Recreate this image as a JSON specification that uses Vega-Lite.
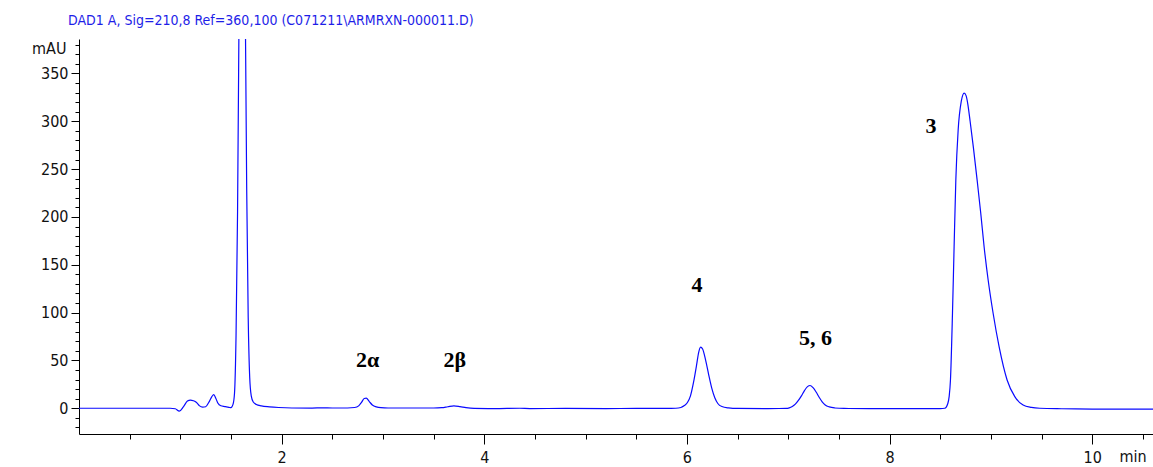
{
  "$schema": "https://vega.github.io/schema/vega-lite/v6.json",
  "width": 1074,
  "height": 395,
  "autosize": {"type": "none"},
  "padding": {"left": 79, "top": 39, "right": 0, "bottom": 33},
  "background": "white",
  "title": {
    "text": "DAD1 A, Sig=210,8 Ref=360,100 (C071211\\ARMRXN-000011.D)",
    "anchor": "start",
    "frame": "group",
    "dx": -11,
    "offset": 9,
    "baseline": "top",
    "font": "Liberation Sans Narrow, DejaVu Sans Condensed, Liberation Sans",
    "fontSize": 14,
    "fontWeight": "normal",
    "color": "#1e1ee8"
  },
  "config": {
    "view": {"stroke": null},
    "axis": {
      "labelFont": "Liberation Sans Narrow, DejaVu Sans Condensed, Liberation Sans",
      "titleFont": "Liberation Sans Narrow, DejaVu Sans Condensed, Liberation Sans",
      "labelFontSize": 16,
      "titleFontSize": 16,
      "titleFontWeight": "normal",
      "labelColor": "#111",
      "titleColor": "#111",
      "domainColor": "black",
      "tickColor": "black",
      "grid": false,
      "labelOverlap": false,
      "labelFlush": false,
      "labelBound": false
    }
  },
  "layer": [
    {
      "data": {
        "values": [
          {"t": 0.0, "v": 0}, {"t": 0.5, "v": 0}, {"t": 0.9, "v": 0}, {"t": 0.95, "v": -0.5},
          {"t": 0.99, "v": -3}, {"t": 1.03, "v": 1.5}, {"t": 1.07, "v": 7.5}, {"t": 1.10, "v": 8.6},
          {"t": 1.13, "v": 7.8}, {"t": 1.16, "v": 6}, {"t": 1.19, "v": 2.5}, {"t": 1.22, "v": 1.2},
          {"t": 1.25, "v": 1.6}, {"t": 1.28, "v": 6}, {"t": 1.31, "v": 12}, {"t": 1.33, "v": 14.3},
          {"t": 1.35, "v": 10.5}, {"t": 1.37, "v": 5.5}, {"t": 1.40, "v": 2.6}, {"t": 1.44, "v": 1.8},
          {"t": 1.48, "v": 1}, {"t": 1.50, "v": 0.6}, {"t": 1.52, "v": 4}, {"t": 1.535, "v": 16},
          {"t": 1.55, "v": 76}, {"t": 1.565, "v": 206}, {"t": 1.58, "v": 420}, {"t": 1.595, "v": 642},
          {"t": 1.61, "v": 740}, {"t": 1.625, "v": 660}, {"t": 1.64, "v": 440}, {"t": 1.655, "v": 230},
          {"t": 1.67, "v": 95}, {"t": 1.685, "v": 32}, {"t": 1.70, "v": 13}, {"t": 1.72, "v": 6.5},
          {"t": 1.75, "v": 4}, {"t": 1.80, "v": 2.5}, {"t": 1.88, "v": 1.5}, {"t": 1.97, "v": 0.8},
          {"t": 2.1, "v": 0.3}, {"t": 2.3, "v": 0.2}, {"t": 2.4, "v": 0.5}, {"t": 2.5, "v": 0.3},
          {"t": 2.65, "v": 0.3}, {"t": 2.72, "v": 0.8}, {"t": 2.76, "v": 2.5}, {"t": 2.79, "v": 6.5},
          {"t": 2.815, "v": 10.2}, {"t": 2.835, "v": 10.5}, {"t": 2.865, "v": 7}, {"t": 2.895, "v": 3.5},
          {"t": 2.935, "v": 1.4}, {"t": 2.98, "v": 0.6}, {"t": 3.05, "v": 0.3}, {"t": 3.3, "v": 0.3},
          {"t": 3.5, "v": 0.3}, {"t": 3.58, "v": 0.6}, {"t": 3.64, "v": 1.6}, {"t": 3.70, "v": 2.6},
          {"t": 3.76, "v": 1.8}, {"t": 3.82, "v": 0.6}, {"t": 3.9, "v": -0.2}, {"t": 4.1, "v": -0.4},
          {"t": 4.35, "v": 0}, {"t": 4.45, "v": -0.3}, {"t": 4.8, "v": -0.2}, {"t": 5.2, "v": -0.3},
          {"t": 5.5, "v": -0.2}, {"t": 5.8, "v": -0.2}, {"t": 5.89, "v": 0}, {"t": 5.94, "v": 0.8},
          {"t": 5.975, "v": 2.8}, {"t": 6.005, "v": 6}, {"t": 6.035, "v": 13}, {"t": 6.065, "v": 27},
          {"t": 6.095, "v": 45}, {"t": 6.115, "v": 58}, {"t": 6.135, "v": 64}, {"t": 6.155, "v": 62},
          {"t": 6.185, "v": 50}, {"t": 6.215, "v": 35}, {"t": 6.245, "v": 21}, {"t": 6.275, "v": 11},
          {"t": 6.305, "v": 5}, {"t": 6.345, "v": 1.8}, {"t": 6.41, "v": 0.4}, {"t": 6.5, "v": -0.2},
          {"t": 6.8, "v": -0.3}, {"t": 6.98, "v": -0.2}, {"t": 7.01, "v": 0.4}, {"t": 7.04, "v": 1.9},
          {"t": 7.07, "v": 4.3}, {"t": 7.10, "v": 8.2}, {"t": 7.13, "v": 13}, {"t": 7.16, "v": 18.5},
          {"t": 7.19, "v": 22.6}, {"t": 7.215, "v": 23.8}, {"t": 7.245, "v": 21.5}, {"t": 7.275, "v": 17},
          {"t": 7.305, "v": 11.5}, {"t": 7.335, "v": 6.8}, {"t": 7.365, "v": 3.5}, {"t": 7.405, "v": 1.4},
          {"t": 7.46, "v": 0.3}, {"t": 7.55, "v": -0.2}, {"t": 7.8, "v": -0.3}, {"t": 8.2, "v": -0.3},
          {"t": 8.5, "v": -0.3}, {"t": 8.545, "v": 0}, {"t": 8.575, "v": 5}, {"t": 8.588, "v": 12.1},
          {"t": 8.601, "v": 29.6}, {"t": 8.621, "v": 99.3}, {"t": 8.637, "v": 168.9}, {"t": 8.654, "v": 238.7},
          {"t": 8.677, "v": 290.9}, {"t": 8.708, "v": 321}, {"t": 8.736, "v": 329.5}, {"t": 8.756, "v": 326.5},
          {"t": 8.773, "v": 317.5}, {"t": 8.795, "v": 300}, {"t": 8.828, "v": 272}, {"t": 8.864, "v": 238.7},
          {"t": 8.900, "v": 203.9}, {"t": 8.933, "v": 168.9}, {"t": 8.973, "v": 134.1}, {"t": 9.022, "v": 99.3},
          {"t": 9.081, "v": 64.4}, {"t": 9.160, "v": 29.6}, {"t": 9.236, "v": 12.1}, {"t": 9.318, "v": 3.4},
          {"t": 9.40, "v": 0.9}, {"t": 9.483, "v": 0}, {"t": 9.7, "v": -0.5}, {"t": 10.0, "v": -0.8},
          {"t": 10.3, "v": -1}, {"t": 10.6, "v": -1}
        ]
      },
      "mark": {"type": "line", "clip": true, "color": "#0a0aff", "strokeWidth": 1.2, "interpolate": "monotone"},
      "encoding": {
        "x": {
          "field": "t",
          "type": "quantitative",
          "scale": {"domain": [0, 10.6], "nice": false, "zero": false},
          "axis": {
            "values": [0.5, 1, 1.5, 2, 2.5, 3, 3.5, 4, 4.5, 5, 5.5, 6, 6.5, 7, 7.5, 8, 8.5, 9, 9.5, 10, 10.5],
            "tickCount": 50,
            "labelExpr": "datum.value % 2 === 0 ? format(datum.value, 'd') : ''",
            "tickSize": {"condition": {"test": "datum.value % 2 === 0", "value": 10}, "value": 5},
            "labelPadding": 5,
            "title": "min",
            "titleX": 1040,
            "titleY": 22,
            "titleAlign": "left",
            "titleBaseline": "middle",
            "titleAnchor": "start"
          }
        },
        "y": {
          "field": "v",
          "type": "quantitative",
          "scale": {"domain": [-26.9, 386], "nice": false, "zero": false},
          "axis": {
            "values": [-20, -10, 0, 10, 20, 30, 40, 50, 60, 70, 80, 90, 100, 110, 120, 130, 140, 150, 160, 170, 180, 190, 200, 210, 220, 230, 240, 250, 260, 270, 280, 290, 300, 310, 320, 330, 340, 350, 360, 370, 380],
            "tickCount": 100,
            "labelExpr": "(datum.value % 50 === 0) ? (datum.value < 0 ? '' : format(datum.value, 'd')) : ''",
            "tickSize": {"condition": {"test": "datum.value % 50 === 0", "value": 8}, "value": 4},
            "labelPadding": 3,
            "title": "mAU",
            "titleAngle": 0,
            "titleAlign": "right",
            "titleBaseline": "middle",
            "titleX": -13,
            "titleY": 9
          }
        }
      }
    },
    {
      "data": {
        "values": [
          {"t": 2.85, "v": 50.5, "label": "2α"},
          {"t": 3.71, "v": 50, "label": "2β"},
          {"t": 6.10, "v": 129, "label": "4"},
          {"t": 7.27, "v": 73, "label": "5, 6"},
          {"t": 8.41, "v": 295, "label": "3"}
        ]
      },
      "mark": {"type": "text", "font": "Liberation Serif", "fontWeight": "bold", "fontSize": 22, "color": "black", "align": "center", "baseline": "middle"},
      "encoding": {
        "x": {"field": "t", "type": "quantitative"},
        "y": {"field": "v", "type": "quantitative"},
        "text": {"field": "label"}
      }
    }
  ]
}
